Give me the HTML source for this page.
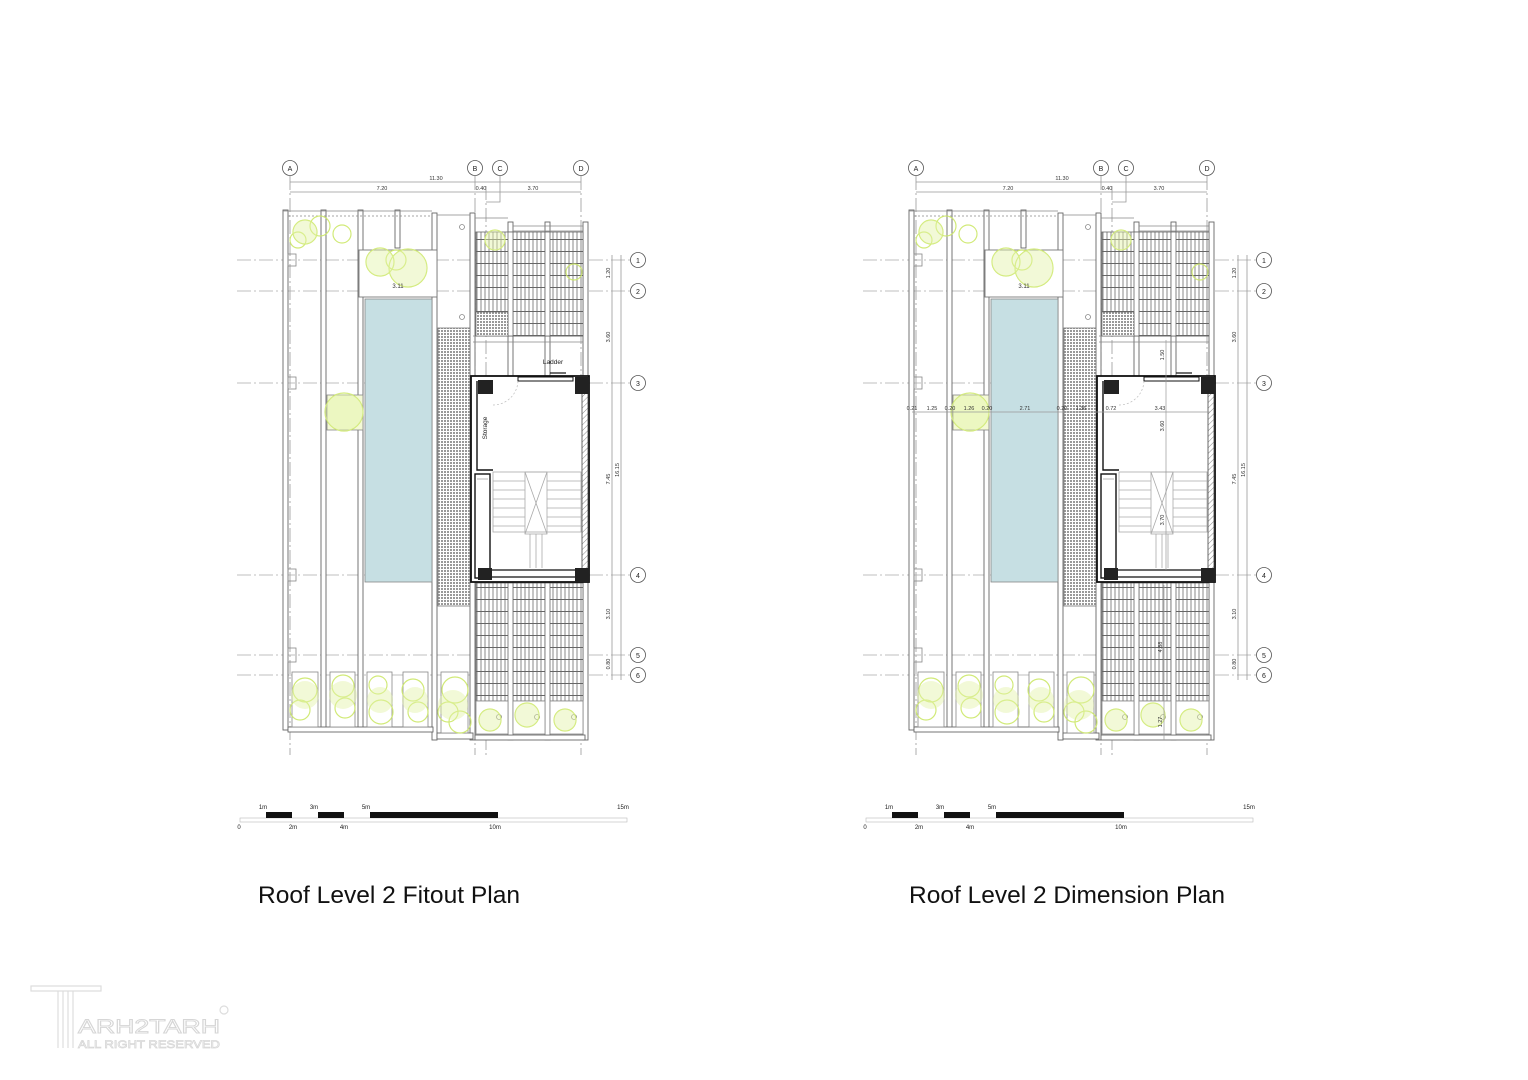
<!DOCTYPE html>
<html><head><meta charset="utf-8"><style>
html,body{margin:0;padding:0;background:#fff;}
svg{display:block;}
text{font-family:"Liberation Sans",sans-serif;}
</style></head><body>
<svg width="1528" height="1080" viewBox="0 0 1528 1080" xmlns="http://www.w3.org/2000/svg">
<defs>
<pattern id="grate" width="4" height="12" patternUnits="userSpaceOnUse">
<rect width="4" height="12" fill="#fff"/>
<line x1="1" y1="0" x2="1" y2="12" stroke="#888" stroke-width="1"/>
<line x1="0" y1="11.5" x2="4" y2="11.5" stroke="#666" stroke-width="1"/>
</pattern>
<pattern id="mesh" width="3" height="3" patternUnits="userSpaceOnUse">
<rect width="3" height="3" fill="#fff"/>
<rect width="2" height="2" fill="#999"/>
</pattern>
<pattern id="hatch" width="4" height="4" patternUnits="userSpaceOnUse" patternTransform="rotate(45)">
<line x1="0" y1="0" x2="0" y2="4" stroke="#888" stroke-width="1"/>
</pattern>
<g id="plan">
<!-- dimensions top -->
<g stroke="#999" stroke-width="0.8" fill="none">
<line x1="290" y1="182" x2="581" y2="182"/>
<line x1="290" y1="192" x2="581" y2="192"/>
<line x1="290" y1="176" x2="290" y2="755" stroke-dasharray="14,3,2,3"/>
<line x1="475" y1="176" x2="475" y2="755" stroke-dasharray="14,3,2,3"/>
<line x1="486" y1="186" x2="486" y2="755" stroke-dasharray="14,3,2,3"/>
<line x1="581" y1="176" x2="581" y2="755" stroke-dasharray="14,3,2,3"/>
<polyline points="500,176 500,202 486,202"/>
</g>
<g fill="#fff" stroke="#555" stroke-width="0.8">
<circle cx="290" cy="168" r="7.5"/><circle cx="475" cy="168" r="7.5"/><circle cx="500" cy="168" r="7.5"/><circle cx="581" cy="168" r="7.5"/>
<circle cx="638" cy="260" r="7.5"/><circle cx="638" cy="291" r="7.5"/><circle cx="638" cy="383" r="7.5"/><circle cx="638" cy="575" r="7.5"/><circle cx="638" cy="655" r="7.5"/><circle cx="638" cy="675" r="7.5"/>
</g>
<g font-size="7" fill="#222" text-anchor="middle">
<text x="290" y="171">A</text><text x="475" y="171">B</text><text x="500" y="171">C</text><text x="581" y="171">D</text>
<text x="638" y="263">1</text><text x="638" y="294">2</text><text x="638" y="386">3</text><text x="638" y="578">4</text><text x="638" y="658">5</text><text x="638" y="678">6</text>
</g>
<g font-size="5.5" fill="#333" text-anchor="middle">
<text x="436" y="180">11.30</text><text x="382" y="190">7.20</text><text x="481" y="190">0.40</text><text x="533" y="190">3.70</text>
</g>
<!-- grid lines horizontal -->
<g stroke="#aaa" stroke-width="0.8" stroke-dasharray="14,3,2,3">
<line x1="237" y1="260" x2="630" y2="260"/><line x1="237" y1="291" x2="630" y2="291"/><line x1="237" y1="383" x2="630" y2="383"/>
<line x1="237" y1="575" x2="630" y2="575"/><line x1="237" y1="655" x2="630" y2="655"/><line x1="237" y1="675" x2="630" y2="675"/>
</g>
<!-- right dims -->
<g stroke="#999" stroke-width="0.8">
<line x1="612" y1="255" x2="612" y2="680"/><line x1="621" y1="255" x2="621" y2="680"/>
</g>
<g font-size="5.5" fill="#333" text-anchor="middle">
<text transform="translate(610,273) rotate(-90)">1.20</text>
<text transform="translate(610,337) rotate(-90)">3.60</text>
<text transform="translate(610,479) rotate(-90)">7.45</text>
<text transform="translate(619,470) rotate(-90)">16.15</text>
<text transform="translate(610,614) rotate(-90)">3.10</text>
<text transform="translate(610,664) rotate(-90)">0.80</text>
</g>
<!-- walls / columns -->
<g fill="#fff" stroke="#666" stroke-width="0.9">
<rect x="283" y="210" width="5" height="520"/>
<rect x="321" y="210" width="5" height="520"/>
<rect x="358" y="210" width="5" height="520"/>
<rect x="395" y="210" width="5" height="38"/>
<rect x="432" y="213" width="5" height="527"/>
<rect x="470" y="213" width="5" height="527"/>
<rect x="508" y="222" width="5" height="518"/>
<rect x="545" y="222" width="5" height="518"/>
<rect x="583" y="222" width="5" height="518"/>
<rect x="288" y="727" width="145" height="5"/>
<rect x="437" y="733" width="36" height="6"/>
<rect x="475" y="735" width="110" height="5"/>
</g>
<g stroke="#888" stroke-width="0.8" fill="none">
<line x1="283" y1="211" x2="432" y2="211"/><line x1="288" y1="216" x2="432" y2="216" stroke-dasharray="2,2"/>
<line x1="437" y1="215" x2="470" y2="215"/><line x1="475" y1="218" x2="508" y2="218"/>
<line x1="513" y1="226" x2="583" y2="226"/><line x1="513" y1="231" x2="583" y2="231"/>
<line x1="473" y1="336" x2="583" y2="336"/><line x1="473" y1="342" x2="583" y2="342"/>
<rect x="288" y="254" width="8" height="12"/><rect x="288" y="377" width="8" height="12"/><rect x="288" y="569" width="8" height="12"/><rect x="288" y="648" width="8" height="14"/>
<circle cx="462" cy="227" r="2.5"/><circle cx="462" cy="317" r="2.5"/>
</g>
<!-- pool & planters -->
<rect x="359" y="250" width="78" height="47" fill="#fff" stroke="#777" stroke-width="0.9"/>
<rect x="365" y="299" width="67" height="283" fill="#c6dfe3" stroke="#888" stroke-width="0.8"/>
<rect x="438" y="328" width="32" height="278" fill="url(#mesh)" stroke="#777" stroke-width="0.8"/>
<rect x="327" y="395" width="36" height="35" fill="#f4f9d6" stroke="#888" stroke-width="0.8"/>
<!-- grating -->
<rect x="476" y="232" width="107" height="104" fill="url(#grate)" stroke="#666" stroke-width="0.8"/>
<rect x="508" y="232" width="5" height="104" fill="#fff" stroke="#666" stroke-width="0.8"/>
<rect x="545" y="232" width="5" height="104" fill="#fff" stroke="#666" stroke-width="0.8"/>
<rect x="476" y="583" width="107" height="118" fill="url(#grate)" stroke="#666" stroke-width="0.8"/>
<rect x="508" y="583" width="5" height="152" fill="#fff" stroke="#666" stroke-width="0.8"/>
<rect x="545" y="583" width="5" height="152" fill="#fff" stroke="#666" stroke-width="0.8"/>
<rect x="476" y="312" width="32" height="24" fill="url(#mesh)" stroke="#666" stroke-width="0.6"/>
<!-- bottom planters -->
<g fill="#fff" stroke="#888" stroke-width="0.8">
<rect x="292" y="672" width="26" height="55"/><rect x="330" y="672" width="25" height="55"/><rect x="367" y="672" width="25" height="55"/><rect x="403" y="672" width="25" height="55"/><rect x="441" y="672" width="27" height="61"/>
<rect x="476" y="701" width="32" height="33"/><rect x="513" y="701" width="32" height="33"/><rect x="550" y="701" width="33" height="33"/>
</g>
<g fill="none" stroke="#888" stroke-width="0.8"><circle cx="499" cy="717" r="2.5"/><circle cx="537" cy="717" r="2.5"/><circle cx="574" cy="717" r="2.5"/></g>
<!-- trees -->
<g fill="none" stroke="#cde86a" stroke-width="1.2" opacity="0.9">
<circle cx="305" cy="232" r="12"/><circle cx="320" cy="226" r="10"/><circle cx="342" cy="234" r="9"/><circle cx="298" cy="240" r="8"/>
<circle cx="380" cy="262" r="14"/><circle cx="408" cy="268" r="19"/><circle cx="396" cy="260" r="10"/>
<circle cx="344" cy="412" r="19"/>
<circle cx="495" cy="240" r="10"/><circle cx="574" cy="272" r="8"/>
<circle cx="305" cy="690" r="12"/><circle cx="300" cy="710" r="10"/><circle cx="343" cy="686" r="11"/><circle cx="345" cy="708" r="10"/><circle cx="378" cy="685" r="9"/><circle cx="381" cy="712" r="12"/><circle cx="413" cy="690" r="11"/><circle cx="418" cy="712" r="10"/><circle cx="455" cy="690" r="13"/><circle cx="448" cy="712" r="10"/><circle cx="460" cy="722" r="11"/>
<circle cx="490" cy="720" r="11"/><circle cx="527" cy="715" r="12"/><circle cx="565" cy="720" r="11"/>
</g>
<g fill="#e3f3a8" opacity="0.45">
<circle cx="305" cy="232" r="12"/><circle cx="408" cy="268" r="19"/><circle cx="380" cy="262" r="14"/><circle cx="344" cy="412" r="19"/><circle cx="305" cy="695" r="14"/><circle cx="343" cy="695" r="14"/><circle cx="380" cy="700" r="13"/><circle cx="415" cy="700" r="13"/><circle cx="453" cy="705" r="15"/><circle cx="495" cy="240" r="10"/><circle cx="490" cy="720" r="11"/><circle cx="527" cy="715" r="12"/><circle cx="565" cy="720" r="11"/>
</g>
<text x="398" y="288" font-size="6" fill="#333" text-anchor="middle">3.11</text>
<!-- core -->
<rect x="471" y="376" width="118" height="206" fill="#fff" stroke="#111" stroke-width="1.8"/>
<rect x="582" y="390" width="6" height="180" fill="url(#hatch)" stroke="#444" stroke-width="0.8"/>
<polyline points="477,381 477,470 493,470" fill="none" stroke="#111" stroke-width="1.4"/>
<rect x="475" y="474" width="15" height="104" fill="#fff" stroke="#111" stroke-width="1.4"/>
<line x1="477" y1="479" x2="488" y2="479" stroke="#888" stroke-width="0.6"/>
<line x1="490" y1="570" x2="582" y2="570" stroke="#111" stroke-width="1.2"/>
<line x1="490" y1="577" x2="582" y2="577" stroke="#111" stroke-width="1.2"/>
<rect x="518" y="377" width="55" height="4" fill="#fff" stroke="#111" stroke-width="1"/>
<line x1="550" y1="373" x2="566" y2="373" stroke="#111" stroke-width="1.2"/>
<path d="M493 405 A 25 25 0 0 0 518 381" fill="none" stroke="#bbb" stroke-width="0.7" stroke-dasharray="2,2"/>
<g stroke="#aaa" stroke-width="0.8" fill="none">
<rect x="493" y="472" width="88" height="60"/>
<rect x="525" y="472" width="22" height="62"/>
<line x1="525" y1="472" x2="547" y2="534"/><line x1="547" y1="472" x2="525" y2="534"/>
<line x1="493" y1="481" x2="525" y2="481"/><line x1="493" y1="490" x2="525" y2="490"/><line x1="493" y1="499" x2="525" y2="499"/><line x1="493" y1="508" x2="525" y2="508"/><line x1="493" y1="517" x2="525" y2="517"/><line x1="493" y1="526" x2="525" y2="526"/>
<line x1="547" y1="481" x2="581" y2="481"/><line x1="547" y1="490" x2="581" y2="490"/><line x1="547" y1="499" x2="581" y2="499"/><line x1="547" y1="508" x2="581" y2="508"/><line x1="547" y1="517" x2="581" y2="517"/><line x1="547" y1="526" x2="581" y2="526"/>
<line x1="530" y1="534" x2="530" y2="568"/><line x1="536" y1="534" x2="536" y2="568"/><line x1="542" y1="534" x2="542" y2="568"/>
</g>
<g fill="#222">
<rect x="478" y="380" width="15" height="14"/><rect x="575" y="377" width="14" height="17"/>
<rect x="478" y="568" width="14" height="12"/><rect x="575" y="568" width="14" height="14"/>
</g>
<!-- scale bar -->
<rect x="240" y="818" width="387" height="4" fill="#fff" stroke="#bbb" stroke-width="0.6"/>
<g fill="#111"><rect x="266" y="812" width="26" height="6"/><rect x="318" y="812" width="26" height="6"/><rect x="370" y="812" width="128" height="6"/></g>
<g font-size="6" fill="#222" text-anchor="middle">
<text x="263" y="809">1m</text><text x="314" y="809">3m</text><text x="366" y="809">5m</text><text x="623" y="809">15m</text>
<text x="239" y="829">0</text><text x="293" y="829">2m</text><text x="344" y="829">4m</text><text x="495" y="829">10m</text>
</g>
</g>
</defs>

<use href="#plan"/>
<use href="#plan" transform="translate(626,0)"/>

<!-- left-only labels -->
<text x="553" y="364" font-size="6.5" fill="#222" text-anchor="middle">Ladder</text>
<text transform="translate(487,428) rotate(-90)" font-size="6.5" fill="#222" text-anchor="middle">Storage</text>

<!-- right-only dims -->
<g stroke="#999" stroke-width="0.7">
<line x1="912" y1="412" x2="1210" y2="412"/>
<line x1="1166" y1="340" x2="1166" y2="472"/>
<line x1="1166" y1="472" x2="1166" y2="570"/>
<line x1="1164" y1="585" x2="1164" y2="740"/>
</g>
<g font-size="5.5" fill="#333" text-anchor="middle">
<text x="912" y="410">0.21</text><text x="932" y="410">1.25</text><text x="950" y="410">0.20</text><text x="969" y="410">1.26</text><text x="987" y="410">0.20</text><text x="1025" y="410">2.71</text><text x="1062" y="410">0.20</text><text x="1081" y="410">1.36</text><text x="1111" y="410">0.72</text><text x="1160" y="410">3.43</text>
<text transform="translate(1164,355) rotate(-90)">1.50</text>
<text transform="translate(1164,426) rotate(-90)">3.60</text>
<text transform="translate(1164,520) rotate(-90)">3.70</text>
<text transform="translate(1162,647) rotate(-90)">4.88</text>
<text transform="translate(1162,722) rotate(-90)">1.27</text>
</g>

<!-- titles -->
<text x="258" y="903" font-size="24" fill="#111" textLength="262" lengthAdjust="spacingAndGlyphs" style='font-family:"Liberation Sans",sans-serif'>Roof Level 2 Fitout Plan</text>
<text x="909" y="903" font-size="24" fill="#111" textLength="316" lengthAdjust="spacingAndGlyphs" style='font-family:"Liberation Sans",sans-serif'>Roof Level 2 Dimension Plan</text>

<!-- watermark -->
<g fill="none" stroke="#ddd" stroke-width="1.2">
<rect x="31" y="986" width="70" height="5"/>
<line x1="58" y1="991" x2="58" y2="1048"/><line x1="63" y1="991" x2="63" y2="1048"/><line x1="68" y1="991" x2="68" y2="1048"/><line x1="73" y1="991" x2="73" y2="1048"/>
<circle cx="224" cy="1010" r="4"/>
</g>
<text x="78" y="1033" font-size="19" fill="#fff" stroke="#d6d6d6" stroke-width="0.9" textLength="142" lengthAdjust="spacingAndGlyphs">ARH2TARH</text>
<text x="78" y="1048" font-size="11" fill="#fff" stroke="#d6d6d6" stroke-width="0.7" textLength="142" lengthAdjust="spacingAndGlyphs">ALL RIGHT RESERVED</text>
</svg>
</body></html>
